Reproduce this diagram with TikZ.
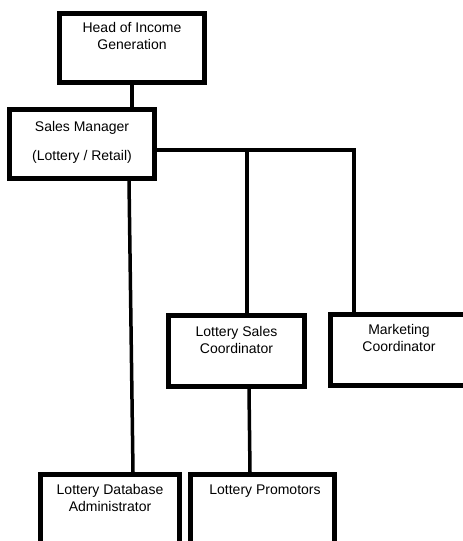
\documentclass[tikz,border=0pt]{standalone}
\usepackage{fontspec}
\setmainfont{Liberation Sans}
\usetikzlibrary{positioning,calc}

\begin{document}
\begin{tikzpicture}[x=1pt,y=-1pt,
    post/.style={draw,line width=5pt,inner sep=0pt,minimum width=#1},
    txt/.style={align=center,inner sep=0pt,font=\fontsize{14}{17}\selectfont},
    link/.style={line width=3.5pt}]
    % Page
    \useasboundingbox (0,0) rectangle (463,541);
    \clip (0,0) rectangle (463,541);

    % Boxes
    \node[post=145pt,minimum height=69pt] (head) at (132,48) {};
    \node[post=145pt,minimum height=69pt] (mgr)  at (82,144) {};
    \node[post=136pt,minimum height=71pt] (lsc)  at (236.5,351) {};
    \node[post=137pt,minimum height=71pt] (mkt)  at (399,350) {};
    \node[post=139pt,minimum height=100pt] (dba) at (110,524.5) {};
    \node[post=144pt,minimum height=100pt] (prom) at (262.5,524.5) {};

    % Labels
    \node[txt] (headtxt) at ([yshift=-25pt]head.north) {Head of Income\\Generation};
    \node[txt] (mgrtxt)  at ([yshift=-35pt]mgr.north) {Sales Manager\\[12pt](Lottery / Retail)};
    \node[txt] (lsctxt)  at ([yshift=-27pt]lsc.north) {Lottery Sales\\Coordinator};
    \node[txt] (mkttxt)  at ([yshift=-26pt]mkt.north) {Marketing\\Coordinator};
    \node[txt] (dbatxt)  at ([yshift=-26pt]dba.north) {Lottery Database\\Administrator};
    \node[txt,anchor=base] (promtxt) at ([xshift=2.5pt,yshift=-22pt]prom.north) {Lottery Promotors};

    % Connectors
    \coordinate (busL) at ([yshift=-6pt]mgr.east);
    \coordinate (busR) at (354,150);
    \coordinate (tapC) at (247,150);
    \draw[link] (head.south) -- (head.south |- mgr.north);
    \draw[link] (busL) -- (busR) -- (busR |- mkt.north);
    \draw[link] (tapC) -- (tapC |- lsc.north);
    \draw[link] ([xshift=47pt]mgr.south) -- ([xshift=23pt]dba.north);
    \draw[link] ([xshift=12.5pt]lsc.south) -- ([xshift=-12.5pt]prom.north);
\end{tikzpicture}
\end{document}
